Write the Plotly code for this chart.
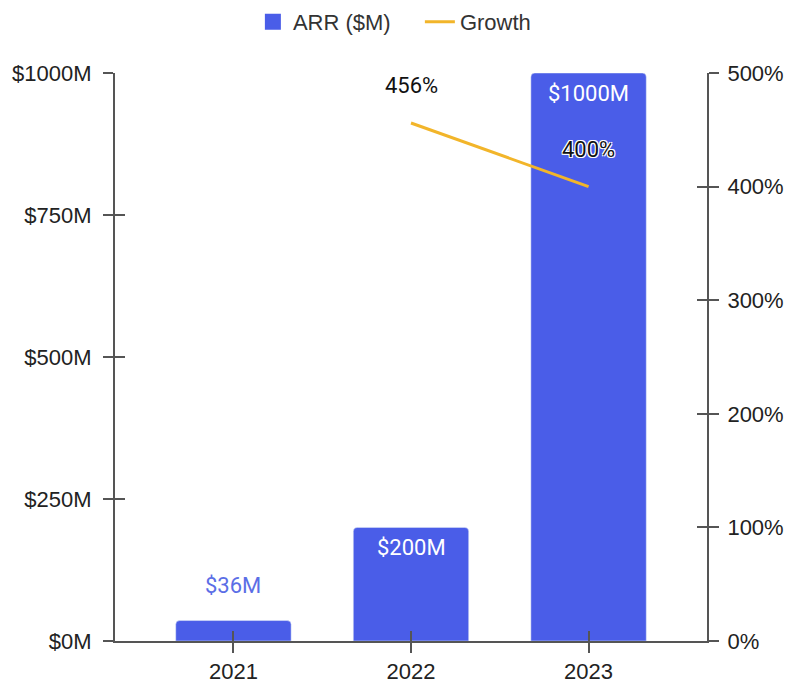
import plotly.graph_objects as go

years = ["2021", "2022", "2023"]
arr_values = [36, 200, 1000]          # ARR in $M
growth_years = ["2022", "2023"]
growth_values = [456, 400]            # growth in %
left_ticks = [0, 250, 500, 750, 1000]
right_ticks = [0, 100, 200, 300, 400, 500]

BAR = "#4a5de8"
LINE = "#f2b52a"
AX = "#555555"
FONT = "Liberation Sans, Arial, sans-serif"
LFONT = "Roboto, Arial, sans-serif"
XR = [-0.667, 2.667]
FS = 22

fig = go.Figure()
# legend-only entry with a larger square swatch for the bars
fig.add_trace(go.Scatter(x=[None], y=[None], name="ARR ($M)", mode="markers",
                         marker=dict(symbol="square", size=17, color=BAR), hoverinfo="skip"))
fig.add_trace(go.Bar(x=years, y=arr_values, name="ARR ($M)", marker_color=BAR,
                     width=0.65, yaxis="y", showlegend=False))
fig.add_trace(go.Scatter(x=growth_years, y=growth_values, name="Growth", mode="lines",
                         line=dict(color=LINE, width=3), yaxis="y2"))
# invisible helper traces so the overlay axes (inner half of the crossing ticks) are drawn
fig.add_trace(go.Scatter(x=[None], y=[None], xaxis="x2", yaxis="y3", showlegend=False,
                         hoverinfo="skip", mode="markers"))
fig.add_trace(go.Scatter(x=[None], y=[None], xaxis="x2", yaxis="y4", showlegend=False,
                         hoverinfo="skip", mode="markers"))

halo = "-1px -1px 0 #fff, 1px -1px 0 #fff, -1px 1px 0 #fff, 1px 1px 0 #fff"
annotations = []
for yr, v in zip(years, arr_values):
    inside = v >= 100
    annotations.append(dict(x=years.index(yr), y=v, xref="x", yref="y", text=f"${v}M",
                            showarrow=False, yshift=-20 if inside else 35,
                            font=dict(family=LFONT, size=FS,
                                      color="white" if inside else "#5b6ee6")))
for yr, g in zip(growth_years, growth_values):
    annotations.append(dict(x=years.index(yr), y=g, xref="x", yref="y2", text=f"{g}%",
                            showarrow=False, yshift=37,
                            font=dict(family=LFONT, size=FS, color="#111", shadow=halo)))

axis_common = dict(showgrid=False, zeroline=False, showline=True, linecolor=AX, linewidth=2,
                   tickcolor=AX, tickwidth=2, ticklen=10, automargin=False)

fig.update_layout(
    width=789, height=683,
    margin=dict(l=115, r=82, t=73, b=42),
    paper_bgcolor="white", plot_bgcolor="white",
    font=dict(family=FONT, size=FS, color="#222"),
    xaxis=dict(type="category", range=XR, ticks="outside",
               tickfont=dict(size=FS, color="#222"), **axis_common),
    xaxis2=dict(overlaying="x", type="linear", range=XR, tickvals=[0, 1, 2], ticks="inside",
                showticklabels=False, side="bottom", anchor="y", **axis_common),
    yaxis=dict(range=[0, 1000], tickvals=left_ticks, ticktext=[f"${t}M" for t in left_ticks],
               ticks="outside", ticklabelstandoff=7, **axis_common),
    yaxis3=dict(overlaying="y", range=[0, 1000], tickvals=left_ticks, ticks="inside",
                showticklabels=False, side="left", anchor="x2", **axis_common),
    yaxis2=dict(overlaying="y", side="right", range=[0, 500], tickvals=right_ticks,
                ticktext=[f"{t}%" for t in right_ticks], ticks="outside", ticklabelstandoff=4,
                **axis_common),
    yaxis4=dict(overlaying="y", side="right", range=[0, 500], tickvals=right_ticks, ticks="inside",
                showticklabels=False, anchor="x2", **axis_common),
    legend=dict(orientation="h", x=0.515, xanchor="center", yref="container", y=0.968,
                yanchor="middle", entrywidth=122, font=dict(size=FS, color="#333")),
    annotations=annotations,
    barcornerradius=4,
    showlegend=True,
)

fig.write_html("out.html")
